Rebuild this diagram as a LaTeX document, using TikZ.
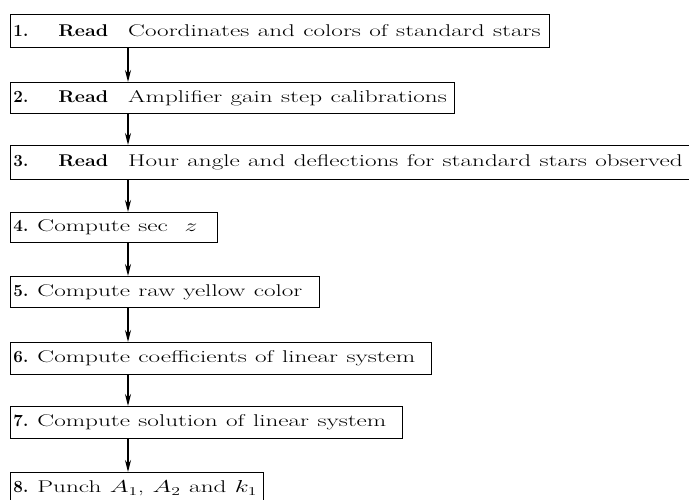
\documentclass[tikz,border=0pt]{standalone}
\usepackage{graphicx}
\usetikzlibrary{arrows.meta}
\newcommand\widetext[1]{\scalebox{1.48}[1]{#1}}
\newcommand\readword{\scalebox{1.16}[1]{\textbf{Read}}\hspace{20pt}}
\newcommand\stepnum[2]{\makebox[#1][l]{\textbf{#2}}}
\begin{document}
\begin{tikzpicture}[x=1pt, y=-1pt,
  stepbox/.style={draw, line width=0.9pt, anchor=north west, inner xsep=3pt, inner ysep=0pt, minimum height=32pt, align=left, font=\fontsize{17}{20}\selectfont},
  flow/.style={-{Stealth[length=12pt, width=6pt]}, line width=1.4pt}]
\useasboundingbox (0,0) rectangle (689,500);
\coordinate (spine) at (128,0);
\node (read1) at (10,14) [stepbox, minimum height=33pt, text width=533pt] {\stepnum{45pt}{1.}\readword\widetext{Coordinates and colors of standard stars}};
\node (read2) at (10,82) [stepbox, minimum height=31pt, text width=438pt] {\stepnum{45pt}{2.}\readword\widetext{Amplifier gain step calibrations}};
\node (read3) at (10,145) [stepbox, minimum height=34pt, text width=700pt] {\stepnum{45pt}{3.}\readword\widetext{Hour angle and deflections for standard stars observed}};
\node (secz) at (10,212) [stepbox, minimum height=30pt, text width=201pt] {\stepnum{24pt}{4.}\widetext{Compute sec\ \ $z$}};
\node (rawcol) at (10,276) [stepbox, minimum height=31pt, text width=303pt] {\stepnum{24pt}{5.}\widetext{Compute raw yellow color}};
\node (coef) at (10,342) [stepbox, minimum height=32pt, text width=415pt] {\stepnum{24pt}{6.}\widetext{Compute coefficients of linear system}};
\node (solve) at (10,406) [stepbox, minimum height=32pt, text width=386pt] {\stepnum{24pt}{7.}\widetext{Compute solution of linear system}};
\node (punch) at (10,472) [stepbox, minimum height=32pt, text width=247pt] {\stepnum{24pt}{8.}\widetext{Punch $A_1$, $A_2$ and $k_1$}};
\draw [flow] (read1.south -| spine) -- (read2.north -| spine);
\draw [flow] (read2.south -| spine) -- (read3.north -| spine);
\draw [flow] (read3.south -| spine) -- (secz.north -| spine);
\draw [flow] (secz.south -| spine) -- (rawcol.north -| spine);
\draw [flow] (rawcol.south -| spine) -- (coef.north -| spine);
\draw [flow] (coef.south -| spine) -- (solve.north -| spine);
\draw [flow] (solve.south -| spine) -- (punch.north -| spine);
\end{tikzpicture}
\end{document}
